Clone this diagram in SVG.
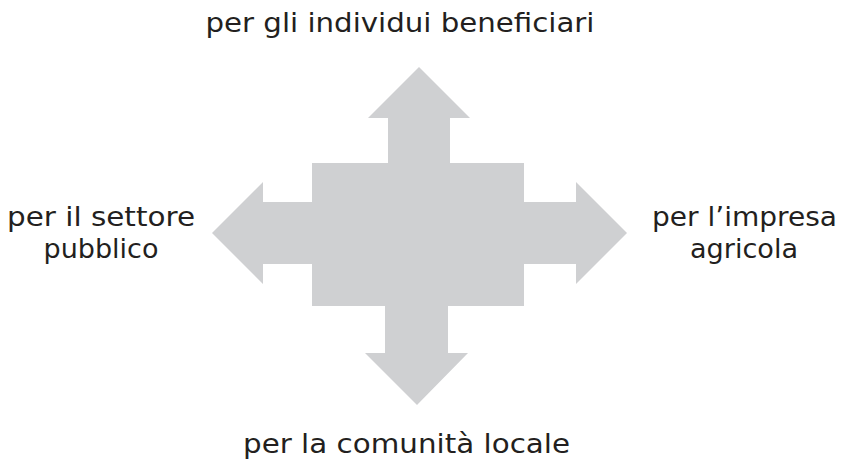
<svg xmlns="http://www.w3.org/2000/svg" width="848" height="461" viewBox="0 0 848 461">
<style>
.shape{fill:#cfd0d2}
.t{font-family:"DejaVu Sans","Liberation Sans",Arial,sans-serif;font-size:26px;fill:#231f20;text-anchor:middle}
</style>
<rect width="848" height="461" fill="#ffffff"/>
<g id="connectors">
<path class="shape" d="M312,163 H388 V118 H368 L419,67 L470,118 H450 V163 H524 V202 H576 V182 L627,233 L576,284 V264 H524 V306 H448 V353 H468 L417,405 L365,353 H385 V306 H312 V264 H263 V284 L212,233 L263,182 V202 H312 Z"/>
</g>
<g id="top"><text class="t" x="400" y="32" textLength="389" lengthAdjust="spacingAndGlyphs">per gli individui beneficiari</text></g>
<g id="bottom"><text class="t" x="406.5" y="453" textLength="327" lengthAdjust="spacingAndGlyphs">per la comunità locale</text></g>
<g id="left"><text class="t" x="101" y="226" textLength="188" lengthAdjust="spacingAndGlyphs">per il settore</text><text class="t" x="101" y="258" textLength="115" lengthAdjust="spacingAndGlyphs">pubblico</text></g>
<g id="right"><text class="t" x="744.5" y="226" textLength="185" lengthAdjust="spacingAndGlyphs">per l’impresa</text><text class="t" x="744" y="258" textLength="108" lengthAdjust="spacingAndGlyphs">agricola</text></g>
</svg>
